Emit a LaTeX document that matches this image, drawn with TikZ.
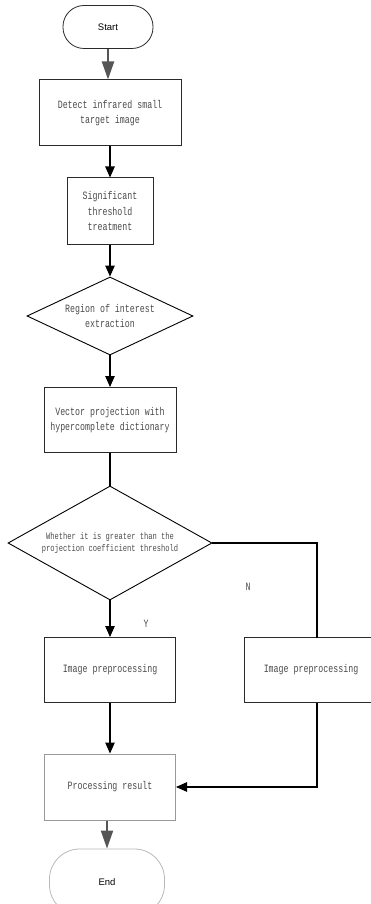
\documentclass[tikz,border=0pt]{standalone}
\usepackage{fontspec}
\setmainfont{Liberation Sans}
\newfontfamily\boxfont[FakeStretch=0.74]{Liberation Mono}
\usetikzlibrary{shapes.geometric,arrows.meta}
\definecolor{txtgray}{HTML}{4A4A4A}
\definecolor{linedark}{HTML}{2A2A2A}
\definecolor{arrowgray}{HTML}{555555}
\tikzset{
  procbox/.style={draw=linedark, line width=1pt, rectangle, inner sep=0pt,
    align=center, text=txtgray, font=\boxfont\fontsize{11.2}{15.3}\selectfont},
  decbox/.style={draw=black, line width=0.9pt, diamond, inner sep=0pt,
    align=center, text=txtgray},
  termbox/.style={rectangle, rounded corners=21pt, inner sep=0pt,
    font=\fontsize{9.5}{11}\selectfont, text=black},
  flow/.style={draw=black, line width=1.1pt, -{Triangle[length=11pt,width=9.5pt]}},
  plainline/.style={draw=black, line width=1.1pt},
  grayflow/.style={draw=arrowgray, line width=2pt, -{Triangle[length=18pt,width=12pt]}},
  lbl/.style={text=txtgray, font=\boxfont\fontsize{11.2}{12}\selectfont, inner sep=0pt}
}
\begin{document}
\begin{tikzpicture}[x=1pt,y=-1pt]
\useasboundingbox (0,0) rectangle (371,904);
\clip (0,0) rectangle (371,904);
\node[termbox, draw=linedark, line width=0.8pt, minimum width=90pt, minimum height=43pt] (start) at (108,27) {Start};
\node[procbox, minimum width=142pt, minimum height=66pt] (detect) at (110,113) {Detect infrared small\\target image};
\node[procbox, minimum width=86pt, minimum height=66pt] (sig) at (110,211) {Significant\\threshold\\treatment};
\node[decbox, minimum width=166pt, minimum height=78pt, aspect=2.13, font=\boxfont\fontsize{11.2}{15.3}\selectfont] (roi) at (110,316) {Region of interest\\extraction};
\node[procbox, minimum width=132pt, minimum height=65pt] (vec) at (110,420) {Vector projection with\\hypercomplete dictionary};
\node[decbox, minimum width=204pt, minimum height=114pt, aspect=1.79, font=\boxfont\fontsize{9.6}{12}\selectfont] (cmp) at (110,543) {Whether it is greater than the\\projection coefficient threshold};
\node[procbox, minimum width=131pt, minimum height=65pt] (lip) at (110,670) {Image preprocessing};
\node[procbox, minimum width=134pt, minimum height=65pt] (rip) at (311,670) {Image preprocessing};
\node[procbox, draw=gray!80, minimum width=131pt, minimum height=66pt] (res) at (110,787) {Processing result};
\node[termbox, draw=gray!55, line width=0.8pt, rounded corners=30pt, minimum width=115pt, minimum height=66pt] (end) at (107,882) {End};
\coordinate (rtop) at (317,638);
\coordinate (rbot) at (317,703);
\draw[grayflow] (start.south) -- (start.south |- detect.north);
\draw[flow] (detect.south) -- (sig.north);
\draw[flow] (sig.south) -- (roi.north);
\draw[flow] (roi.south) -- (vec.north);
\draw[plainline] (vec.south) -- (cmp.north);
\draw[flow] (cmp.south) -- (lip.north) node[lbl, pos=0.65, xshift=36pt] (ylab) {Y};
\draw[plainline] (cmp.east) -| (rtop);
\node[lbl] (nlab) at (248,587) {N};
\draw[flow] (lip.south) -- (res.north);
\draw[flow] (rbot) |- (res.east);
\draw[grayflow] (res.south -| end.north) -- (end.north);
\end{tikzpicture}
\end{document}
